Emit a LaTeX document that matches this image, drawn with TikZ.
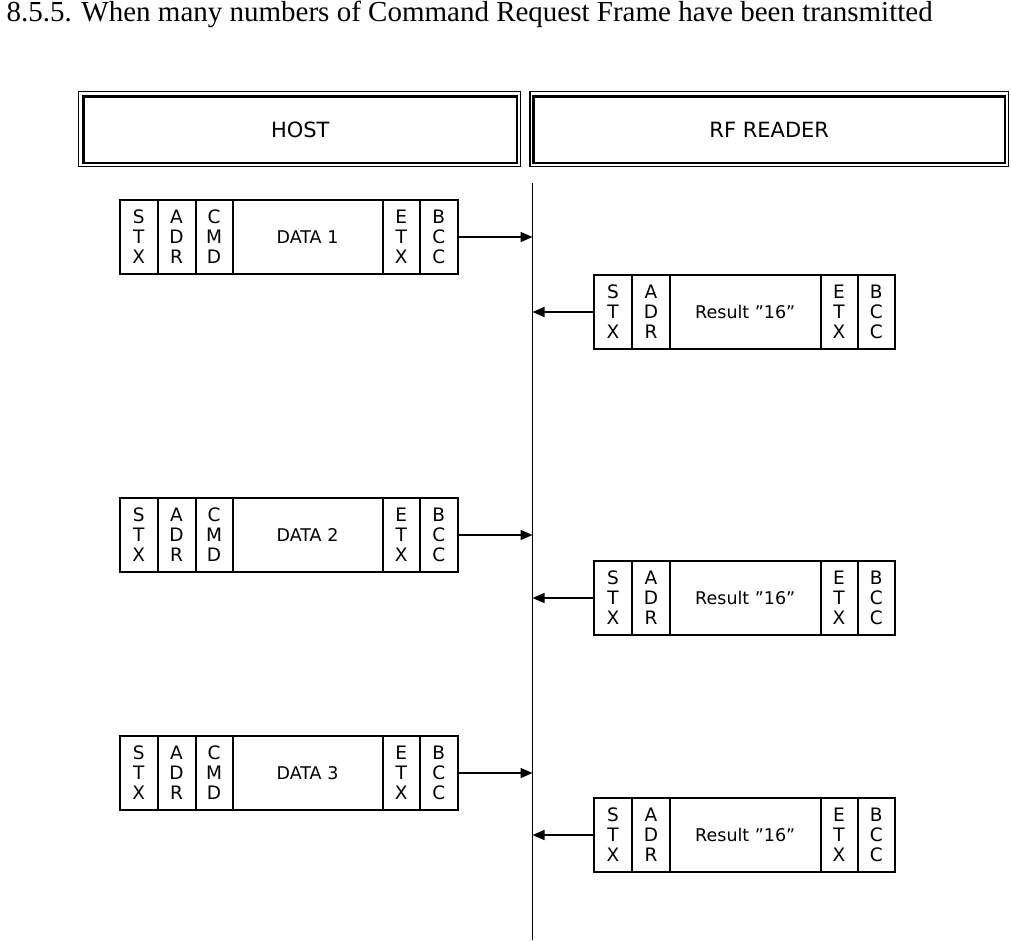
\documentclass[tikz,border=0pt]{standalone}
\usepackage{fontspec}
\setmainfont{Liberation Serif}
\newfontfamily\guifont{DejaVu Sans}
\usetikzlibrary{positioning}
\usetikzlibrary{arrows.meta}

\tikzset{
  field/.style={draw, line width=2pt, outer sep=0pt, inner sep=0pt,
    minimum height=74pt, align=center,
    font=\guifont\fontsize{18.5}{20}\selectfont},
  datafield/.style={field, font=\guifont\fontsize{17.5}{20}\selectfont},
  header/.style={draw, line width=2.5pt, outer sep=0pt, inner sep=0pt,
    minimum height=66.5pt, font=\guifont\fontsize{21}{24}\selectfont},
  msg/.style={line width=1.5pt, -{Triangle[length=12pt,width=10pt]}}
}

\begin{document}
\begin{tikzpicture}[x=1pt,y=-1pt]
  \useasboundingbox (0,0) rectangle (1011,940);
  \node[anchor=base west, font=\fontsize{29}{32}\selectfont] (title) at (3,21)
    {8.5.5. When many numbers of Command Request Frame have been transmitted};

  % header boxes
  \node[header, minimum width=433.5pt] (host) at (300.25,129.75) {HOST};
  \node[header, minimum width=471.5pt] (reader) at (769.25,129.75) {RF READER};
  \draw[line width=1.5pt] ([shift={(-5pt,5pt)}]host.north west) rectangle ([shift={(3.5pt,-3.5pt)}]host.south east);
  \draw[line width=1.5pt] ([shift={(-3.5pt,5pt)}]reader.north west) rectangle ([shift={(3.5pt,-3.5pt)}]reader.south east);

  % time line
  \coordinate (bustop) at (532.5,183);
  \coordinate (busbot) at (532.5,940);
  \draw[line width=1.5pt] (bustop) -- (busbot);

  % frame 1
  \node[field, minimum width=37.5pt, anchor=north west] (s1) at (120,200) {S\\T\\X};
  \node[field, minimum width=38pt] (a1) [right=0pt of s1] {A\\D\\R};
  \node[field, minimum width=37pt] (c1) [right=0pt of a1] {C\\M\\D};
  \node[datafield, minimum width=150pt] (d1) [right=0pt of c1] {DATA 1};
  \node[field, minimum width=37.5pt] (e1) [right=0pt of d1] {E\\T\\X};
  \node[field, minimum width=37.5pt] (b1) [right=0pt of e1] {B\\C\\C};
  \node[field, minimum width=38pt, anchor=north west] (rs1) at (594,275) {S\\T\\X};
  \node[field, minimum width=38pt] (ra1) [right=0pt of rs1] {A\\D\\R};
  \node[datafield, minimum width=150.5pt] (rr1) [right=0pt of ra1] {Result ”16”};
  \node[field, minimum width=37pt] (re1) [right=0pt of rr1] {E\\T\\X};
  \node[field, minimum width=37.5pt] (rb1) [right=0pt of re1] {B\\C\\C};
  \draw[msg] (b1.east) -- (b1.east -| bustop);
  \draw[msg] (rs1.west) -- (rs1.west -| bustop);

  % frame 2
  \node[field, minimum width=37.5pt, anchor=north west] (s2) at (120,498) {S\\T\\X};
  \node[field, minimum width=38pt] (a2) [right=0pt of s2] {A\\D\\R};
  \node[field, minimum width=37pt] (c2) [right=0pt of a2] {C\\M\\D};
  \node[datafield, minimum width=150pt] (d2) [right=0pt of c2] {DATA 2};
  \node[field, minimum width=37.5pt] (e2) [right=0pt of d2] {E\\T\\X};
  \node[field, minimum width=37.5pt] (b2) [right=0pt of e2] {B\\C\\C};
  \node[field, minimum width=38pt, anchor=north west] (rs2) at (594,561) {S\\T\\X};
  \node[field, minimum width=38pt] (ra2) [right=0pt of rs2] {A\\D\\R};
  \node[datafield, minimum width=150.5pt] (rr2) [right=0pt of ra2] {Result ”16”};
  \node[field, minimum width=37pt] (re2) [right=0pt of rr2] {E\\T\\X};
  \node[field, minimum width=37.5pt] (rb2) [right=0pt of re2] {B\\C\\C};
  \draw[msg] (b2.east) -- (b2.east -| bustop);
  \draw[msg] (rs2.west) -- (rs2.west -| bustop);

  % frame 3
  \node[field, minimum width=37.5pt, anchor=north west] (s3) at (120,736) {S\\T\\X};
  \node[field, minimum width=38pt] (a3) [right=0pt of s3] {A\\D\\R};
  \node[field, minimum width=37pt] (c3) [right=0pt of a3] {C\\M\\D};
  \node[datafield, minimum width=150pt] (d3) [right=0pt of c3] {DATA 3};
  \node[field, minimum width=37.5pt] (e3) [right=0pt of d3] {E\\T\\X};
  \node[field, minimum width=37.5pt] (b3) [right=0pt of e3] {B\\C\\C};
  \node[field, minimum width=38pt, anchor=north west] (rs3) at (594,798) {S\\T\\X};
  \node[field, minimum width=38pt] (ra3) [right=0pt of rs3] {A\\D\\R};
  \node[datafield, minimum width=150.5pt] (rr3) [right=0pt of ra3] {Result ”16”};
  \node[field, minimum width=37pt] (re3) [right=0pt of rr3] {E\\T\\X};
  \node[field, minimum width=37.5pt] (rb3) [right=0pt of re3] {B\\C\\C};
  \draw[msg] (b3.east) -- (b3.east -| bustop);
  \draw[msg] (rs3.west) -- (rs3.west -| bustop);
\end{tikzpicture}
\end{document}
